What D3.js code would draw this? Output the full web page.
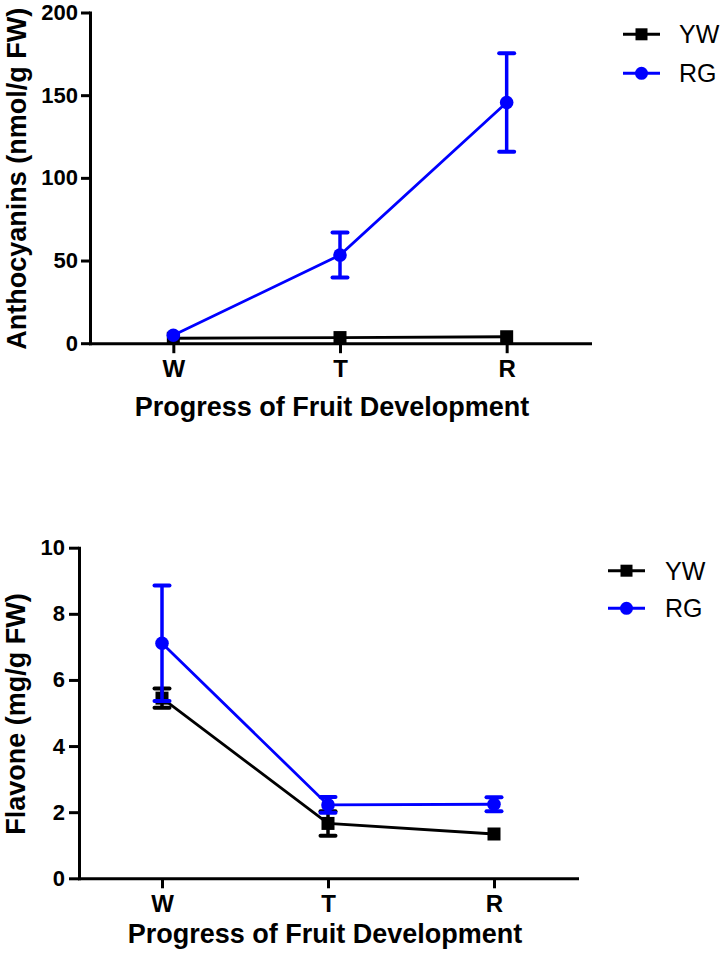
<!DOCTYPE html>
<html>
<head>
<meta charset="utf-8">
<script src="https://cdn.jsdelivr.net/npm/d3@7"></script>
<style>
  html, body { margin: 0; padding: 0; background: #fff; }
  svg { display: block; }
  text { font-family: "Liberation Sans", Arial, sans-serif; }
</style>
</head>
<body>
<svg id="chart" width="725" height="960"></svg>
<script>
// ---- data ----
const stages = ["W", "T", "R"];
const seriesNames = ["YW", "RG"];
const seriesColors = ["#000000", "#0000ff"];

const anthoTicks = [0, 50, 100, 150, 200];
const anthoYW = [3.0, 3.4, 3.9];
const anthoYWErr = [0.3, 0.4, 0.4];
const anthoRG = [4.8, 53.3, 145.6];
const anthoRGErr = [0.6, 13.6, 29.8];

const flavTicks = [0, 2, 4, 6, 8, 10];
const flavYW = [5.45, 1.66, 1.34];
const flavYWErr = [0.29, 0.37, 0.02];
const flavRG = [7.11, 2.22, 2.24];
const flavRGErr = [1.75, 0.24, 0.21];

const xTitle = "Progress of Fruit Development";

const svg = d3.select("#chart");

function drawPanel(cfg) {
  const g = svg.append("g");
  const x = d3.scalePoint().domain(stages).range([cfg.left, cfg.right]).padding(0.5);
  const y = d3.scaleLinear().domain([cfg.ticks[0], cfg.ticks[cfg.ticks.length - 1]]).range([cfg.bottom, cfg.top]);

  // axes
  const ya = g.append("g").attr("transform", `translate(${cfg.left},0)`)
    .call(d3.axisLeft(y).tickValues(cfg.ticks).tickSize(cfg.yTick).tickSizeOuter(0).tickPadding(cfg.yPad));
  const xa = g.append("g").attr("transform", `translate(0,${cfg.bottom})`)
    .call(d3.axisBottom(x).tickSize(10).tickSizeOuter(0).tickPadding(7));
  [ya, xa].forEach(a => {
    a.select(".domain").attr("stroke", "#000").attr("stroke-width", 3).attr("stroke-linecap", "square");
    a.selectAll(".tick line").attr("stroke", "#000").attr("stroke-width", 3);
    a.selectAll(".tick text").attr("fill", "#000").attr("font-weight", "bold")
      .attr("font-family", '"Liberation Sans", Arial, sans-serif');
  });
  ya.selectAll(".tick text").attr("font-size", 22);
  xa.selectAll(".tick text").attr("font-size", 24);

  // titles
  g.append("text").attr("transform", `translate(${cfg.yTitleX},${(cfg.top + cfg.bottom) / 2 + 1}) rotate(-90)`)
    .attr("text-anchor", "middle").attr("font-weight", "bold").attr("font-size", 27).text(cfg.yTitle);
  g.append("text").attr("x", cfg.xTitleX).attr("y", cfg.xTitleY)
    .attr("text-anchor", "middle").attr("font-weight", "bold").attr("font-size", 27).text(xTitle);

  // series
  cfg.data.forEach((s, si) => {
    const color = seriesColors[si];
    const sg = g.append("g");
    const line = d3.line().x((d, i) => x(stages[i])).y(d => y(d));
    sg.append("path").datum(s.v).attr("d", line).attr("fill", "none")
      .attr("stroke", color).attr("stroke-width", 2.8);
    s.v.forEach((v, i) => {
      const cx = x(stages[i]);
      const e = s.e[i];
      const y1 = y(v + e), y2 = y(v - e);
      if (Math.abs(y2 - y1) > 2) {
        sg.append("line").attr("x1", cx).attr("x2", cx).attr("y1", y1).attr("y2", y2)
          .attr("stroke", color).attr("stroke-width", 3.5);
        [y1, y2].forEach(yy => sg.append("line").attr("x1", cx - 7.5).attr("x2", cx + 7.5)
          .attr("y1", yy).attr("y2", yy).attr("stroke", color).attr("stroke-width", 4)
          .attr("stroke-linecap", "round"));
      }
      if (si === 0) {
        sg.append("rect").attr("x", cx - 6.5).attr("y", y(v) - 6.5).attr("width", 13).attr("height", 13).attr("fill", color);
      } else {
        sg.append("circle").attr("cx", cx).attr("cy", y(v)).attr("r", 6.8).attr("fill", color);
      }
    });
  });

  // legend
  seriesNames.forEach((name, si) => {
    const ly = cfg.legY + si * cfg.legGap;
    const color = seriesColors[si];
    const lx0 = cfg.legX, lx1 = cfg.legX + 37, mx = (lx0 + lx1) / 2;
    g.append("line").attr("x1", lx0).attr("x2", lx1).attr("y1", ly).attr("y2", ly)
      .attr("stroke", color).attr("stroke-width", 3);
    if (si === 0) {
      g.append("rect").attr("x", mx - 6).attr("y", ly - 6).attr("width", 12).attr("height", 12).attr("fill", color);
    } else {
      g.append("circle").attr("cx", mx).attr("cy", ly).attr("r", 6.5).attr("fill", color);
    }
    g.append("text").attr("x", cfg.legTextX).attr("y", ly + 9).attr("font-size", 25).attr("fill", "#000").text(name);
  });
}

drawPanel({
  left: 90, right: 590, top: 12.5, bottom: 343.2,
  ticks: anthoTicks, yTick: 9, yPad: 3,
  yTitle: "Anthocyanins (nmol/g FW)", yTitleX: 26,
  xTitleX: 332, xTitleY: 416,
  data: [{ v: anthoYW, e: anthoYWErr }, { v: anthoRG, e: anthoRGErr }],
  legX: 623, legTextX: 679, legY: 34.3, legGap: 39
});

drawPanel({
  left: 79, right: 577, top: 547.7, bottom: 878.3,
  ticks: flavTicks, yTick: 10, yPad: 4,
  yTitle: "Flavone (mg/g FW)", yTitleX: 25,
  xTitleX: 325, xTitleY: 943,
  data: [{ v: flavYW, e: flavYWErr }, { v: flavRG, e: flavRGErr }],
  legX: 608, legTextX: 665, legY: 570.7, legGap: 37.6
});
</script>
</body>
</html>
